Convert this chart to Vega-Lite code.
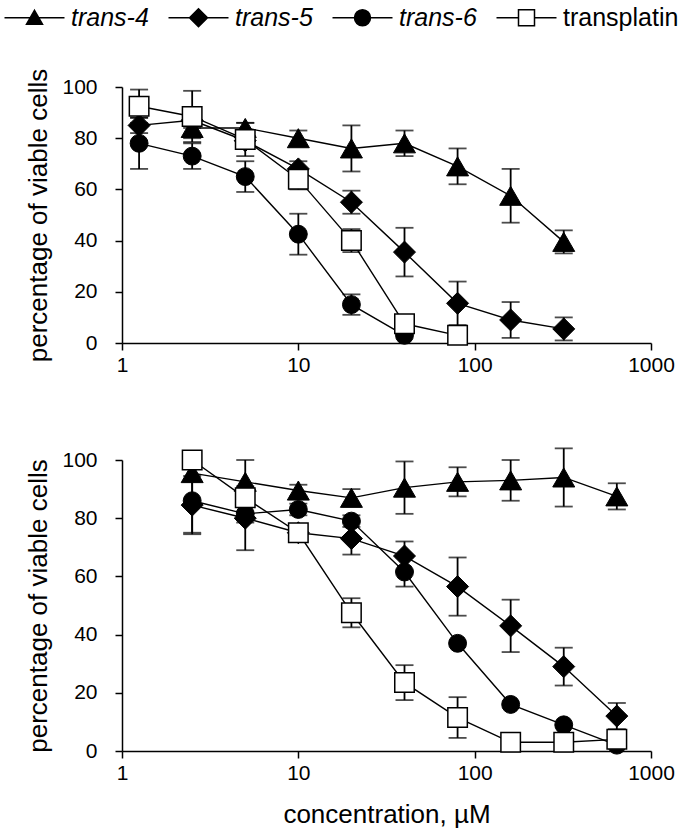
{
  "$schema": "https://vega.github.io/schema/vega-lite/v6.json",
  "background": "white",
  "autosize": {"type": "none"},
  "padding": {"left": 122, "top": 87, "right": 560, "bottom": 749},
  "config": {
    "font": "Liberation Sans",
    "view": {"stroke": null},
    "axis": {"grid": false, "domainColor": "black", "domainWidth": 1.5, "tickColor": "black", "tickWidth": 1.5, "tickSize": 7, "labelColor": "black", "labelFont": "Liberation Sans", "labelFontSize": 21, "titleFont": "Liberation Sans", "titleFontSize": 26, "titleFontWeight": "normal", "titleColor": "black"},
    "axisX": {"labelPadding": 4, "titlePadding": 18, "labelFlush": false},
    "axisY": {"labelPadding": 18, "titlePadding": 10},
    "legend": {"labelFont": "Liberation Sans", "labelFontSize": 25, "labelColor": "black", "symbolStrokeColor": "black", "symbolStrokeWidth": 1.5, "symbolSize": 400, "labelOffset": 24, "columnPadding": 16, "symbolOpacity": 1}
  },
  "datasets": {
    "d": [
      {"p": "top", "s": "trans-4", "c": 2.5, "v": 84, "lo": 80, "hi": 88},
      {"p": "top", "s": "trans-4", "c": 5, "v": 84, "lo": 82, "hi": 86},
      {"p": "top", "s": "trans-4", "c": 10, "v": 80, "lo": 77, "hi": 83},
      {"p": "top", "s": "trans-4", "c": 20, "v": 76, "lo": 67, "hi": 85},
      {"p": "top", "s": "trans-4", "c": 40, "v": 78, "lo": 73, "hi": 83},
      {"p": "top", "s": "trans-4", "c": 80, "v": 69, "lo": 62, "hi": 76},
      {"p": "top", "s": "trans-4", "c": 160, "v": 57.5, "lo": 47, "hi": 68},
      {"p": "top", "s": "trans-4", "c": 320, "v": 39.5, "lo": 35, "hi": 44},
      {"p": "top", "s": "trans-5", "c": 1.25, "v": 85, "lo": 82, "hi": 88},
      {"p": "top", "s": "trans-5", "c": 2.5, "v": 87, "lo": 84, "hi": 90},
      {"p": "top", "s": "trans-5", "c": 5, "v": 79, "lo": 76, "hi": 82},
      {"p": "top", "s": "trans-5", "c": 10, "v": 68, "lo": 65, "hi": 71},
      {"p": "top", "s": "trans-5", "c": 20, "v": 55, "lo": 50.5, "hi": 59.5},
      {"p": "top", "s": "trans-5", "c": 40, "v": 35.5, "lo": 26, "hi": 45},
      {"p": "top", "s": "trans-5", "c": 80, "v": 15.5, "lo": 7, "hi": 24},
      {"p": "top", "s": "trans-5", "c": 160, "v": 9, "lo": 2, "hi": 16},
      {"p": "top", "s": "trans-5", "c": 320, "v": 5.5, "lo": 1, "hi": 10},
      {"p": "top", "s": "trans-6", "c": 1.25, "v": 78, "lo": 68, "hi": 88},
      {"p": "top", "s": "trans-6", "c": 2.5, "v": 73, "lo": 68, "hi": 78},
      {"p": "top", "s": "trans-6", "c": 5, "v": 65, "lo": 59, "hi": 71},
      {"p": "top", "s": "trans-6", "c": 10, "v": 42.5, "lo": 34.5, "hi": 50.5},
      {"p": "top", "s": "trans-6", "c": 20, "v": 15, "lo": 11, "hi": 19},
      {"p": "top", "s": "trans-6", "c": 40, "v": 3},
      {"p": "top", "s": "transplatin", "c": 1.25, "v": 92.5, "lo": 86, "hi": 99},
      {"p": "top", "s": "transplatin", "c": 2.5, "v": 88.5, "lo": 78.5, "hi": 98.5},
      {"p": "top", "s": "transplatin", "c": 5, "v": 79.5, "lo": 73, "hi": 86},
      {"p": "top", "s": "transplatin", "c": 10, "v": 64, "lo": 60, "hi": 68},
      {"p": "top", "s": "transplatin", "c": 20, "v": 40, "lo": 35.5, "hi": 44.5},
      {"p": "top", "s": "transplatin", "c": 40, "v": 7.5},
      {"p": "top", "s": "transplatin", "c": 80, "v": 3},
      {"p": "bottom", "s": "trans-4", "c": 2.5, "v": 95.5, "lo": 92.5, "hi": 98.5},
      {"p": "bottom", "s": "trans-4", "c": 5, "v": 92.5, "lo": 85, "hi": 100},
      {"p": "bottom", "s": "trans-4", "c": 10, "v": 89.5, "lo": 87.5, "hi": 91.5},
      {"p": "bottom", "s": "trans-4", "c": 20, "v": 87, "lo": 84, "hi": 90},
      {"p": "bottom", "s": "trans-4", "c": 40, "v": 90.5, "lo": 81.5, "hi": 99.5},
      {"p": "bottom", "s": "trans-4", "c": 80, "v": 92.5, "lo": 87.5, "hi": 97.5},
      {"p": "bottom", "s": "trans-4", "c": 160, "v": 93, "lo": 86, "hi": 100},
      {"p": "bottom", "s": "trans-4", "c": 320, "v": 94, "lo": 84, "hi": 104},
      {"p": "bottom", "s": "trans-4", "c": 640, "v": 87.5, "lo": 83, "hi": 92},
      {"p": "bottom", "s": "trans-5", "c": 2.5, "v": 84.5, "lo": 74.5, "hi": 94.5},
      {"p": "bottom", "s": "trans-5", "c": 5, "v": 80, "lo": 69, "hi": 91},
      {"p": "bottom", "s": "trans-5", "c": 10, "v": 75, "lo": 72, "hi": 78},
      {"p": "bottom", "s": "trans-5", "c": 20, "v": 73, "lo": 67.5, "hi": 78.5},
      {"p": "bottom", "s": "trans-5", "c": 40, "v": 67, "lo": 62, "hi": 72},
      {"p": "bottom", "s": "trans-5", "c": 80, "v": 56.5, "lo": 46.5, "hi": 66.5},
      {"p": "bottom", "s": "trans-5", "c": 160, "v": 43, "lo": 34, "hi": 52},
      {"p": "bottom", "s": "trans-5", "c": 320, "v": 29, "lo": 22.5, "hi": 35.5},
      {"p": "bottom", "s": "trans-5", "c": 640, "v": 12, "lo": 7.5, "hi": 16.5},
      {"p": "bottom", "s": "trans-6", "c": 2.5, "v": 86, "lo": 75, "hi": 97},
      {"p": "bottom", "s": "trans-6", "c": 5, "v": 81.5, "lo": 78.5, "hi": 84.5},
      {"p": "bottom", "s": "trans-6", "c": 10, "v": 83, "lo": 81, "hi": 85},
      {"p": "bottom", "s": "trans-6", "c": 20, "v": 79, "lo": 77, "hi": 81},
      {"p": "bottom", "s": "trans-6", "c": 40, "v": 61.5, "lo": 56.5, "hi": 66.5},
      {"p": "bottom", "s": "trans-6", "c": 80, "v": 37},
      {"p": "bottom", "s": "trans-6", "c": 160, "v": 16},
      {"p": "bottom", "s": "trans-6", "c": 320, "v": 9},
      {"p": "bottom", "s": "trans-6", "c": 640, "v": 2},
      {"p": "bottom", "s": "transplatin", "c": 2.5, "v": 100},
      {"p": "bottom", "s": "transplatin", "c": 5, "v": 87},
      {"p": "bottom", "s": "transplatin", "c": 10, "v": 75},
      {"p": "bottom", "s": "transplatin", "c": 20, "v": 47.5, "lo": 42.5, "hi": 52.5},
      {"p": "bottom", "s": "transplatin", "c": 40, "v": 23.5, "lo": 17.5, "hi": 29.5},
      {"p": "bottom", "s": "transplatin", "c": 80, "v": 11.5, "lo": 4.5, "hi": 18.5},
      {"p": "bottom", "s": "transplatin", "c": 160, "v": 3},
      {"p": "bottom", "s": "transplatin", "c": 320, "v": 3},
      {"p": "bottom", "s": "transplatin", "c": 640, "v": 4}
    ]
  },
  "data": {"name": "d"},
  "bounds": "flush",
  "spacing": 117,
  "vconcat": [
    {
      "width": 529,
      "height": 256,
      "transform": [{"filter": "datum.p == 'top'"}],
      "layer": [
        {
          "transform": [{"filter": "datum.lo != null"}],
          "mark": {"type": "rule", "color": "black", "strokeWidth": 1.8},
          "encoding": {
            "x": {"field": "c", "type": "quantitative", "scale": {"type": "log", "domain": [1, 1000]}, "axis": {"values": [1, 10, 100, 1000], "format": "d"}, "title": null},
            "y": {"field": "lo", "type": "quantitative", "scale": {"domain": [0, 100]}, "axis": {"values": [0, 20, 40, 60, 80, 100]}, "title": "percentage of viable cells"},
            "y2": {"field": "hi"}
          }
        },
        {
          "transform": [{"filter": "datum.lo != null"}],
          "mark": {"type": "tick", "orient": "horizontal", "color": "black", "size": 18, "thickness": 1.8},
          "encoding": {
            "x": {"field": "c", "type": "quantitative", "scale": {"type": "log", "domain": [1, 1000]}, "axis": {"values": [1, 10, 100, 1000], "format": "d"}, "title": null},
            "y": {"field": "lo", "type": "quantitative", "scale": {"domain": [0, 100]}, "axis": {"values": [0, 20, 40, 60, 80, 100]}, "title": "percentage of viable cells"}
          }
        },
        {
          "transform": [{"filter": "datum.lo != null"}],
          "mark": {"type": "tick", "orient": "horizontal", "color": "black", "size": 18, "thickness": 1.8},
          "encoding": {
            "x": {"field": "c", "type": "quantitative", "scale": {"type": "log", "domain": [1, 1000]}, "axis": {"values": [1, 10, 100, 1000], "format": "d"}, "title": null},
            "y": {"field": "hi", "type": "quantitative", "scale": {"domain": [0, 100]}, "axis": {"values": [0, 20, 40, 60, 80, 100]}, "title": "percentage of viable cells"}
          }
        },
        {
          "mark": {"type": "line", "color": "black", "strokeWidth": 1.4},
          "encoding": {
            "x": {"field": "c", "type": "quantitative", "scale": {"type": "log", "domain": [1, 1000]}, "axis": {"values": [1, 10, 100, 1000], "format": "d"}, "title": null},
            "y": {"field": "v", "type": "quantitative", "scale": {"domain": [0, 100]}, "axis": {"values": [0, 20, 40, 60, 80, 100]}, "title": "percentage of viable cells"},
            "detail": {"field": "s", "type": "nominal"}
          }
        },
        {
          "transform": [{"filter": "datum.s == 'trans-4'"}],
          "mark": {"type": "point", "shape": "triangle-up", "filled": true, "fill": "black", "stroke": "black", "strokeWidth": 1, "opacity": 1, "size": 484},
          "encoding": {
            "x": {"field": "c", "type": "quantitative", "scale": {"type": "log", "domain": [1, 1000]}, "axis": {"values": [1, 10, 100, 1000], "format": "d"}, "title": null},
            "y": {"field": "v", "type": "quantitative", "scale": {"domain": [0, 100]}, "axis": {"values": [0, 20, 40, 60, 80, 100]}, "title": "percentage of viable cells"}
          }
        },
        {
          "transform": [{"filter": "datum.s == 'trans-5'"}],
          "mark": {"type": "point", "shape": "diamond", "filled": true, "fill": "black", "stroke": "black", "strokeWidth": 1, "opacity": 1, "size": 484},
          "encoding": {
            "x": {"field": "c", "type": "quantitative", "scale": {"type": "log", "domain": [1, 1000]}, "axis": {"values": [1, 10, 100, 1000], "format": "d"}, "title": null},
            "y": {"field": "v", "type": "quantitative", "scale": {"domain": [0, 100]}, "axis": {"values": [0, 20, 40, 60, 80, 100]}, "title": "percentage of viable cells"}
          }
        },
        {
          "transform": [{"filter": "datum.s == 'trans-6'"}],
          "mark": {"type": "point", "shape": "circle", "filled": true, "fill": "black", "stroke": "black", "strokeWidth": 1, "opacity": 1, "size": 320},
          "encoding": {
            "x": {"field": "c", "type": "quantitative", "scale": {"type": "log", "domain": [1, 1000]}, "axis": {"values": [1, 10, 100, 1000], "format": "d"}, "title": null},
            "y": {"field": "v", "type": "quantitative", "scale": {"domain": [0, 100]}, "axis": {"values": [0, 20, 40, 60, 80, 100]}, "title": "percentage of viable cells"}
          }
        },
        {
          "transform": [{"filter": "datum.s == 'transplatin'"}],
          "mark": {"type": "point", "shape": "square", "filled": true, "fill": "white", "stroke": "black", "strokeWidth": 1.5, "opacity": 1, "size": 380},
          "encoding": {
            "x": {"field": "c", "type": "quantitative", "scale": {"type": "log", "domain": [1, 1000]}, "axis": {"values": [1, 10, 100, 1000], "format": "d"}, "title": null},
            "y": {"field": "v", "type": "quantitative", "scale": {"domain": [0, 100]}, "axis": {"values": [0, 20, 40, 60, 80, 100]}, "title": "percentage of viable cells"}
          }
        },
        {
          "mark": {"type": "point", "filled": true, "opacity": 0, "size": 400, "stroke": "black", "strokeWidth": 1.5},
          "encoding": {
            "x": {"field": "c", "type": "quantitative", "scale": {"type": "log", "domain": [1, 1000]}, "axis": {"values": [1, 10, 100, 1000], "format": "d"}, "title": null},
            "y": {"field": "v", "type": "quantitative", "scale": {"domain": [0, 100]}, "axis": {"values": [0, 20, 40, 60, 80, 100]}, "title": "percentage of viable cells"},
            "shape": {
              "field": "s", "type": "nominal",
              "scale": {"domain": ["trans-4", "trans-5", "trans-6", "transplatin"], "range": ["M-3,0H3M0,-0.75L0.8,0.65L-0.8,0.65Z", "M-3,0H3M-0.9,0L0,-0.9L0.9,0L0,0.9Z", "M-3,0H3M-0.8,0A0.8,0.8,0,1,1,0.8,0A0.8,0.8,0,1,1,-0.8,0Z", "M-3,0H-0.8M0.8,0H3M-0.8,-0.8H0.8V0.8H-0.8Z"]},
              "legend": {"title": null, "orient": "none", "legendX": -100, "legendY": -82, "direction": "horizontal", "columns": 4, "symbolOpacity": 1, "encode": {"labels": {"update": {"fontStyle": {"signal": "datum.label == 'transplatin' ? 'normal' : 'italic'"}}}}}
            },
            "fill": {
              "field": "s", "type": "nominal",
              "scale": {"domain": ["trans-4", "trans-5", "trans-6", "transplatin"], "range": ["black", "black", "black", "white"]},
              "legend": {"title": null, "orient": "none", "legendX": -100, "legendY": -82, "direction": "horizontal", "columns": 4, "symbolOpacity": 1, "encode": {"labels": {"update": {"fontStyle": {"signal": "datum.label == 'transplatin' ? 'normal' : 'italic'"}}}}}
            }
          }
        }
      ]
    },
    {
      "width": 529,
      "height": 291,
      "transform": [{"filter": "datum.p == 'bottom'"}],
      "layer": [
        {
          "transform": [{"filter": "datum.lo != null"}],
          "mark": {"type": "rule", "color": "black", "strokeWidth": 1.8},
          "encoding": {
            "x": {"field": "c", "type": "quantitative", "scale": {"type": "log", "domain": [1, 1000]}, "axis": {"values": [1, 10, 100, 1000], "format": "d"}, "title": "concentration, µM"},
            "y": {"field": "lo", "type": "quantitative", "scale": {"domain": [0, 100]}, "axis": {"values": [0, 20, 40, 60, 80, 100]}, "title": "percentage of viable cells"},
            "y2": {"field": "hi"}
          }
        },
        {
          "transform": [{"filter": "datum.lo != null"}],
          "mark": {"type": "tick", "orient": "horizontal", "color": "black", "size": 18, "thickness": 1.8},
          "encoding": {
            "x": {"field": "c", "type": "quantitative", "scale": {"type": "log", "domain": [1, 1000]}, "axis": {"values": [1, 10, 100, 1000], "format": "d"}, "title": "concentration, µM"},
            "y": {"field": "lo", "type": "quantitative", "scale": {"domain": [0, 100]}, "axis": {"values": [0, 20, 40, 60, 80, 100]}, "title": "percentage of viable cells"}
          }
        },
        {
          "transform": [{"filter": "datum.lo != null"}],
          "mark": {"type": "tick", "orient": "horizontal", "color": "black", "size": 18, "thickness": 1.8},
          "encoding": {
            "x": {"field": "c", "type": "quantitative", "scale": {"type": "log", "domain": [1, 1000]}, "axis": {"values": [1, 10, 100, 1000], "format": "d"}, "title": "concentration, µM"},
            "y": {"field": "hi", "type": "quantitative", "scale": {"domain": [0, 100]}, "axis": {"values": [0, 20, 40, 60, 80, 100]}, "title": "percentage of viable cells"}
          }
        },
        {
          "mark": {"type": "line", "color": "black", "strokeWidth": 1.4},
          "encoding": {
            "x": {"field": "c", "type": "quantitative", "scale": {"type": "log", "domain": [1, 1000]}, "axis": {"values": [1, 10, 100, 1000], "format": "d"}, "title": "concentration, µM"},
            "y": {"field": "v", "type": "quantitative", "scale": {"domain": [0, 100]}, "axis": {"values": [0, 20, 40, 60, 80, 100]}, "title": "percentage of viable cells"},
            "detail": {"field": "s", "type": "nominal"}
          }
        },
        {
          "transform": [{"filter": "datum.s == 'trans-4'"}],
          "mark": {"type": "point", "shape": "triangle-up", "filled": true, "fill": "black", "stroke": "black", "strokeWidth": 1, "opacity": 1, "size": 484},
          "encoding": {
            "x": {"field": "c", "type": "quantitative", "scale": {"type": "log", "domain": [1, 1000]}, "axis": {"values": [1, 10, 100, 1000], "format": "d"}, "title": "concentration, µM"},
            "y": {"field": "v", "type": "quantitative", "scale": {"domain": [0, 100]}, "axis": {"values": [0, 20, 40, 60, 80, 100]}, "title": "percentage of viable cells"}
          }
        },
        {
          "transform": [{"filter": "datum.s == 'trans-5'"}],
          "mark": {"type": "point", "shape": "diamond", "filled": true, "fill": "black", "stroke": "black", "strokeWidth": 1, "opacity": 1, "size": 484},
          "encoding": {
            "x": {"field": "c", "type": "quantitative", "scale": {"type": "log", "domain": [1, 1000]}, "axis": {"values": [1, 10, 100, 1000], "format": "d"}, "title": "concentration, µM"},
            "y": {"field": "v", "type": "quantitative", "scale": {"domain": [0, 100]}, "axis": {"values": [0, 20, 40, 60, 80, 100]}, "title": "percentage of viable cells"}
          }
        },
        {
          "transform": [{"filter": "datum.s == 'trans-6'"}],
          "mark": {"type": "point", "shape": "circle", "filled": true, "fill": "black", "stroke": "black", "strokeWidth": 1, "opacity": 1, "size": 320},
          "encoding": {
            "x": {"field": "c", "type": "quantitative", "scale": {"type": "log", "domain": [1, 1000]}, "axis": {"values": [1, 10, 100, 1000], "format": "d"}, "title": "concentration, µM"},
            "y": {"field": "v", "type": "quantitative", "scale": {"domain": [0, 100]}, "axis": {"values": [0, 20, 40, 60, 80, 100]}, "title": "percentage of viable cells"}
          }
        },
        {
          "transform": [{"filter": "datum.s == 'transplatin'"}],
          "mark": {"type": "point", "shape": "square", "filled": true, "fill": "white", "stroke": "black", "strokeWidth": 1.5, "opacity": 1, "size": 380},
          "encoding": {
            "x": {"field": "c", "type": "quantitative", "scale": {"type": "log", "domain": [1, 1000]}, "axis": {"values": [1, 10, 100, 1000], "format": "d"}, "title": "concentration, µM"},
            "y": {"field": "v", "type": "quantitative", "scale": {"domain": [0, 100]}, "axis": {"values": [0, 20, 40, 60, 80, 100]}, "title": "percentage of viable cells"}
          }
        }
      ]
    }
  ]
}
